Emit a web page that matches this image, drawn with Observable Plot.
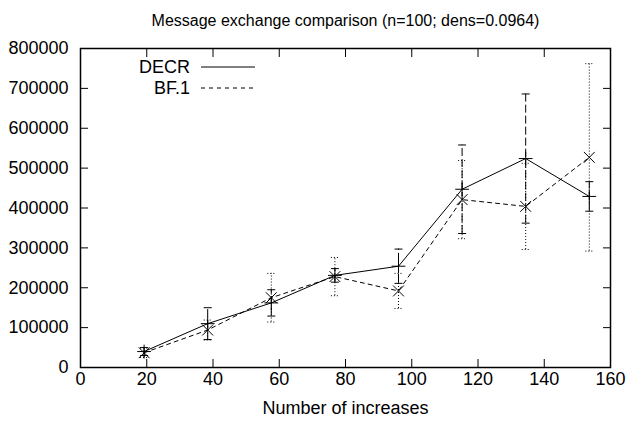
<!DOCTYPE html>
<html><head><meta charset="utf-8">
<script src="https://cdn.jsdelivr.net/npm/d3@7"></script>
<script src="https://cdn.jsdelivr.net/npm/@observablehq/plot@0.6"></script>
<style>body{margin:0;background:#fff}</style>
</head><body><div id="chart"></div>
<script>
const titleText = "Message exchange comparison (n=100; dens=0.0964)";
const xLabel = "Number of increases";
const xTicks = [0, 20, 40, 60, 80, 100, 120, 140, 160];
const yTicks = [0, 100000, 200000, 300000, 400000, 500000, 600000, 700000, 800000];
const increases = [19.2, 38.4, 57.6, 76.8, 96, 115.2, 134.4, 153.6];
const decrValues = [40000, 110000, 162000, 231000, 254000, 447000, 524000, 429000];
const decrErrors = [10000, 40000, 33000, 17000, 43000, 111000, 162000, 37000];
const bfValues = [37000, 94000, 175000, 228000, 192000, 421000, 404000, 527000];
const bfErrors = [12000, 25000, 61000, 48000, 44000, 98000, 108000, 235000];
const seriesNames = ["DECR", "BF.1"];

const decr = increases.map((x, i) => ({x, y: decrValues[i], lo: decrValues[i] - decrErrors[i], hi: decrValues[i] + decrErrors[i]}));
const bf = increases.map((x, i) => ({x, y: bfValues[i], lo: bfValues[i] - bfErrors[i], hi: bfValues[i] + bfErrors[i]}));

const cap = {draw(ctx) { ctx.moveTo(-4, 0); ctx.lineTo(4, 0); }};
const font = "Liberation Sans, Arial, Helvetica, sans-serif";
const tickFont = 18;

const plot = Plot.plot({
  width: 630, height: 421,
  marginLeft: 80, marginRight: 20, marginTop: 48, marginBottom: 54,
  style: {fontFamily: font, background: "white", color: "black"},
  x: {domain: [0, 160]},
  y: {domain: [0, 800000]},
  marks: [
    // error bars
    Plot.ruleX(decr, {x: "x", y1: "lo", y2: "hi", stroke: "black", strokeWidth: 1, strokeDasharray: "8,3"}),
    Plot.dot(decr, {x: "x", y: "lo", symbol: cap, fill: "none", stroke: "black", strokeWidth: 1}),
    Plot.dot(decr, {x: "x", y: "hi", symbol: cap, fill: "none", stroke: "black", strokeWidth: 1}),
    Plot.ruleX(bf, {x: "x", y1: "lo", y2: "hi", stroke: "black", strokeWidth: 1, strokeDasharray: "1,2"}),
    Plot.dot(bf, {x: "x", y: "lo", symbol: cap, fill: "none", stroke: "black", strokeWidth: 1, strokeDasharray: "1,2"}),
    Plot.dot(bf, {x: "x", y: "hi", symbol: cap, fill: "none", stroke: "black", strokeWidth: 1, strokeDasharray: "1,2"}),
    // lines
    Plot.line(decr, {x: "x", y: "y", stroke: "black", strokeWidth: 1}),
    Plot.line(bf, {x: "x", y: "y", stroke: "black", strokeWidth: 1, strokeDasharray: "4,4"}),
    Plot.dot(decr, {x: "x", y: "y", symbol: "plus", r: 4.5, stroke: "black", strokeWidth: 1}),
    Plot.dot(bf, {x: "x", y: "y", symbol: "times", r: 5, stroke: "black", strokeWidth: 1}),
    // axes: inward ticks (mirrored) + labels
    Plot.axisX({anchor: "bottom", ticks: xTicks, tickSize: -8, tickFormat: () => "", label: null}),
    Plot.axisX({anchor: "top", ticks: xTicks, tickSize: -8, tickFormat: () => "", label: null}),
    Plot.axisY({anchor: "left", ticks: yTicks, tickSize: -8, tickFormat: () => "", label: null}),
    Plot.axisY({anchor: "right", ticks: yTicks, tickSize: -8, tickFormat: () => "", label: null}),
    Plot.axisX({anchor: "bottom", ticks: xTicks, tickSize: 0, tickPadding: 5, fontSize: tickFont, label: null, tickFormat: d => String(d)}),
    Plot.axisY({anchor: "left", ticks: yTicks, tickSize: 0, tickPadding: 12, fontSize: tickFont, label: null, tickFormat: d => String(d)}),
    Plot.frame({stroke: "black", strokeWidth: 1.5}),
    Plot.text([titleText], {text: d => d, frameAnchor: "top", dy: -28, fontSize: 16, lineAnchor: "middle"}),
    Plot.text([xLabel], {text: d => d, frameAnchor: "bottom", dy: 41, fontSize: tickFont, lineAnchor: "middle"})
  ]
});
document.getElementById("chart").appendChild(plot);

// legend (gnuplot-style key, no frame)
const svg = d3.select(plot);
const key = svg.append("g").attr("font-family", font).attr("font-size", tickFont);
const keyRows = [{name: seriesNames[0], dash: null, y: 67}, {name: seriesNames[1], dash: "4,4", y: 88}];
keyRows.forEach(r => {
  key.append("text").attr("x", 190).attr("y", r.y).attr("dy", "0.35em").attr("text-anchor", "end").attr("fill", "black").text(r.name);
  key.append("line").attr("x1", 201).attr("x2", 255).attr("y1", r.y).attr("y2", r.y)
    .attr("stroke", "black").attr("stroke-width", 1).attr("stroke-dasharray", r.dash);
});
</script>
</body></html>
